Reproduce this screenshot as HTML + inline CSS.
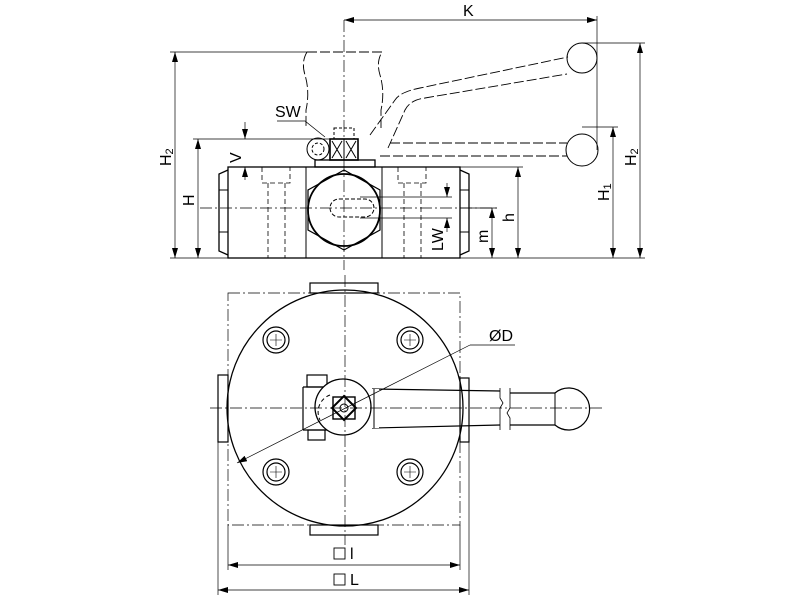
<!DOCTYPE html>
<html><head><meta charset="utf-8"><style>
html,body{margin:0;padding:0;background:#fff}
svg{display:block}
text{font-family:"Liberation Sans",sans-serif;fill:#000}
</style></head><body>
<svg width="800" height="600" viewBox="0 0 800 600" xmlns="http://www.w3.org/2000/svg">
<defs>
<marker id="a" viewBox="0 0 10 6" refX="10" refY="3" markerWidth="10" markerHeight="6" orient="auto-start-reverse" markerUnits="userSpaceOnUse"><path d="M0,0L10,3L0,6z" fill="#000"/></marker>
</defs>
<g fill="none" stroke="#000" stroke-width="1">
<g stroke-dasharray="10,3" stroke-width="0.9">
<path d="M307,52 L382,52 Q376,62 380,75 Q385,92 381,110 L381,128"/>
<path d="M307,52 Q301,62 305,75 Q310,92 306,110 L306,128"/>
<path d="M370,135 L395,100 Q400,92 420,88 L568,57"/>
<path d="M388,148 L405,110 Q410,100 425,98 L567,74"/>
<path d="M390,143 L567,143 M380,156 L567,156"/>
</g>
<circle cx="582" cy="58" r="15"/>
<circle cx="582" cy="150" r="16"/>
<rect x="228" y="167" width="232" height="91" stroke-width="1.3"/>
<line x1="306" y1="167" x2="306" y2="258"/>
<line x1="382" y1="167" x2="382" y2="258"/>
<path d="M228,170 L219,174 L219,251 L228,255" stroke-width="1.3"/>
<line x1="219" y1="190" x2="228" y2="190"/><line x1="219" y1="232" x2="228" y2="232"/>
<path d="M460,170 L469,174 L469,251 L460,255" stroke-width="1.3"/>
<line x1="460" y1="190" x2="469" y2="190"/><line x1="460" y1="232" x2="469" y2="232"/>
<polygon points="344,170 380,190 380,230 344,250 308,230 308,190" stroke-width="1.2"/>
<circle cx="344" cy="210" r="36" stroke-width="1.8"/>
<rect x="330" y="199" width="44" height="18" rx="9" stroke-dasharray="4,2"/>
<g stroke-dasharray="5,3" stroke-width="0.8">
<path d="M262,167 V183 H290 V167 M268,183 V258 M285,183 V258"/>
<path d="M398,167 V183 H426 V167 M404,183 V258 M421,183 V258"/>
</g>
<rect x="315" y="160" width="60" height="7" stroke-width="1.3"/>
<rect x="330" y="139" width="28" height="21" stroke-width="1.6"/>
<line x1="344" y1="139" x2="344" y2="160"/>
<path d="M332,141 L342,158 M342,141 L332,158 M346,141 L356,158 M356,141 L346,158"/>
<rect x="334" y="128" width="20" height="11" stroke-dasharray="3,2"/>
<circle cx="318" cy="149" r="11"/><circle cx="318" cy="149" r="6" stroke-dasharray="3,2"/>
<g stroke-dasharray="12,3,2,3" stroke-width="0.7">
<line x1="344" y1="20" x2="344" y2="270"/>
<line x1="200" y1="208" x2="500" y2="208"/>
</g>
<g stroke-width="0.7">
<line x1="170" y1="258" x2="645" y2="258"/>
<line x1="344" y1="20" x2="597" y2="20" marker-start="url(#a)" marker-end="url(#a)"/>
<line x1="597" y1="16" x2="597" y2="150"/>
<line x1="170" y1="52" x2="307" y2="52"/>
<line x1="175" y1="52" x2="175" y2="258" marker-start="url(#a)" marker-end="url(#a)"/>
<line x1="193" y1="139" x2="330" y2="139"/>
<line x1="198" y1="139" x2="198" y2="258" marker-start="url(#a)" marker-end="url(#a)"/>
<line x1="245" y1="122" x2="245" y2="139" marker-end="url(#a)"/>
<line x1="245" y1="180" x2="245" y2="167" marker-end="url(#a)"/>
<line x1="460" y1="167" x2="523" y2="167"/>
<line x1="518" y1="167" x2="518" y2="258" marker-start="url(#a)" marker-end="url(#a)"/>
<line x1="460" y1="208" x2="497" y2="208"/>
<line x1="492" y1="208" x2="492" y2="258" marker-start="url(#a)" marker-end="url(#a)"/>
<line x1="360" y1="197" x2="452" y2="197"/><line x1="360" y1="218" x2="452" y2="218"/>
<line x1="447" y1="183" x2="447" y2="197" marker-end="url(#a)"/>
<line x1="447" y1="232" x2="447" y2="218" marker-end="url(#a)"/>
<line x1="582" y1="127" x2="618" y2="127"/>
<line x1="613" y1="127" x2="613" y2="258" marker-start="url(#a)" marker-end="url(#a)"/>
<line x1="582" y1="43" x2="645" y2="43"/>
<line x1="640" y1="43" x2="640" y2="258" marker-start="url(#a)" marker-end="url(#a)"/>
<path d="M277,121 L305,121 L325,137"/>
</g>
<rect x="228" y="293" width="232" height="232" stroke-dasharray="12,3,2,3" stroke-width="0.7"/>
<circle cx="345" cy="408" r="118" stroke-width="1.3"/>
<rect x="310" y="283" width="68" height="10" stroke-width="1.2"/>
<rect x="310" y="525" width="68" height="10" stroke-width="1.2"/>
<rect x="218" y="375" width="10" height="67" stroke-width="1.2"/>
<rect x="460" y="378" width="9" height="64" stroke-width="1.2"/>
<g stroke-width="1.2">
<circle cx="276" cy="340" r="13"/><circle cx="276" cy="340" r="9"/>
<circle cx="410" cy="340" r="13"/><circle cx="410" cy="340" r="9"/>
<circle cx="276" cy="472" r="13"/><circle cx="276" cy="472" r="9"/>
<circle cx="410" cy="472" r="13"/><circle cx="410" cy="472" r="9"/>
</g>
<g stroke-width="0.6"><path d="M270,340h12M276,334v12M404,340h12M410,334v12M270,472h12M276,466v12M404,472h12M410,466v12"/></g>
<path d="M372,389 L500,391 M372,428 L500,425" stroke-width="1.2"/>
<path d="M510,393 L555,393 M510,425 L555,425" stroke-width="1.2"/>
<line x1="555" y1="393" x2="555" y2="425"/>
<path d="M555,393 A21,21 0 1 1 555,425" stroke-width="1.2"/>
<path d="M500,388 V398 L503,403 L500,408 V430 M510,388 V408 L507,413 L510,418 V430" stroke-width="0.8"/>
<rect x="372" y="389" width="7" height="39" fill="#fff" stroke="none"/>
<line x1="374" y1="389" x2="374" y2="428"/>
<path d="M303,387 H333 M303,430 H333 M303,387 V430" stroke-width="1.2"/>
<rect x="307" y="375" width="20" height="12" stroke-width="1.2"/>
<rect x="308" y="430" width="17" height="10" stroke-width="1.2"/>
<circle cx="343" cy="407" r="28" fill="#fff" stroke-width="1.3"/>
<path d="M330,395 A18,18 0 0 0 320,420" stroke-dasharray="4,3"/>
<rect x="333" y="397" width="22" height="22" stroke-width="1.4"/>
<polygon points="344,396 356,408 344,420 332,408" stroke-width="2"/>
<circle cx="344" cy="408" r="4"/>
<g stroke-dasharray="12,3,2,3" stroke-width="0.7">
<line x1="345" y1="275" x2="345" y2="545"/>
<line x1="210" y1="408" x2="605" y2="408"/>
</g>
<g stroke-width="0.7">
<line x1="237" y1="463" x2="470" y2="345" marker-start="url(#a)"/>
<line x1="470" y1="345" x2="515" y2="345"/>
<line x1="228" y1="525" x2="228" y2="570"/><line x1="460" y1="525" x2="460" y2="570"/>
<line x1="218" y1="442" x2="218" y2="595"/><line x1="469" y1="442" x2="469" y2="595"/>
<line x1="228" y1="565" x2="460" y2="565" marker-start="url(#a)" marker-end="url(#a)"/>
<line x1="218" y1="590" x2="469" y2="590" marker-start="url(#a)" marker-end="url(#a)"/>
</g>
<rect x="334" y="548" width="11" height="11" stroke-width="0.9"/>
<rect x="334" y="574" width="11" height="11" stroke-width="0.9"/>
</g>
<g font-size="16">
<text x="463" y="16">K</text>
<text x="275" y="117">SW</text>
<text x="489" y="341">ØD</text>
<text x="350" y="559">l</text>
<text x="350" y="585">L</text>
<text transform="translate(171,166) rotate(-90)">H<tspan font-size="11" dy="2">2</tspan></text>
<text transform="translate(194,206) rotate(-90)">H</text>
<text transform="translate(241,163) rotate(-90)">V</text>
<text transform="translate(514,222) rotate(-90)">h</text>
<text transform="translate(488,243) rotate(-90)">m</text>
<text transform="translate(443,251) rotate(-90)">LW</text>
<text transform="translate(609,201) rotate(-90)">H<tspan font-size="11" dy="2">1</tspan></text>
<text transform="translate(636,166) rotate(-90)">H<tspan font-size="11" dy="2">2</tspan></text>
</g>
</svg>
</body></html>
